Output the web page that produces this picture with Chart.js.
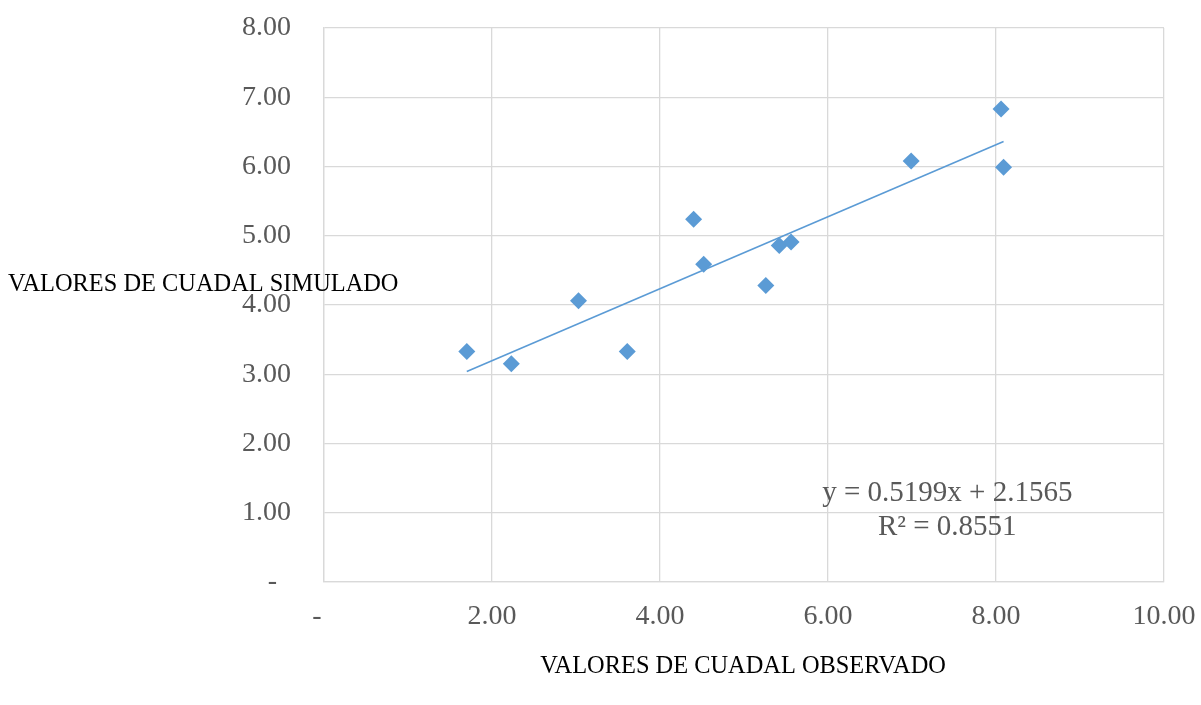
<!DOCTYPE html>
<html>
<head>
<meta charset="utf-8">
<title>Valores de cuadal</title>
<script src="https://cdn.jsdelivr.net/npm/chart.js@4"></script>
<style>
  body { margin: 0; background: #fff; }
  canvas { display: block; }
</style>
</head>
<body>
<canvas id="scatterChart" width="1201" height="705"></canvas>
<script>
// data
const observado = [1.70, 2.23, 3.03, 3.61, 4.40, 4.52, 5.26, 5.42, 5.56, 6.99, 8.06, 8.09];
const simulado  = [3.33, 3.15, 4.06, 3.33, 5.24, 4.59, 4.28, 4.86, 4.91, 6.08, 6.83, 5.99];
const xTicks = [0, 2, 4, 6, 8, 10];
const yTicks = [0, 1, 2, 3, 4, 5, 6, 7, 8];
const trendSlope = 0.5199;
const trendIntercept = 2.1565;
const eqLines = ['y = 0.5199x + 2.1565', 'R² = 0.8551'];

const SERIF = "'Liberation Serif', 'Times New Roman', serif";
const GRID = '#d9d9d9';
const BLUE = '#5b9bd5';

const points = observado.map((x, i) => ({ x: x, y: simulado[i] }));
const xMin = Math.min(...observado);
const xMax = Math.max(...observado);
const trend = [
  { x: xMin, y: trendSlope * xMin + trendIntercept },
  { x: xMax, y: trendSlope * xMax + trendIntercept }
];

function fmt(v) {
  return v === 0 ? '-  ' : v.toFixed(2);
}

// axis titles + trendline equation
const labelsPlugin = {
  id: 'labels',
  afterDraw(chart) {
    const c = chart.ctx;
    const xs = chart.scales.x, ys = chart.scales.y;
    c.save();
    c.fillStyle = '#000';
    c.font = '24.4px ' + SERIF;
    c.textBaseline = 'middle';
    c.textAlign = 'left';
    c.fillText('VALORES DE CUADAL SIMULADO', 8, 285);
    c.textAlign = 'center';
    c.fillText('VALORES DE CUADAL OBSERVADO', 743, 667);

    c.fillStyle = '#595959';
    c.font = '29px ' + SERIF;
    const ex = xs.getPixelForValue(7.42);
    const ey = ys.getPixelForValue(1.28);
    c.fillText(eqLines[0], ex, ey);
    c.fillText(eqLines[1], ex, ey + 34);
    c.restore();
  }
};

const ctx = document.getElementById('scatterChart').getContext('2d');
new Chart(ctx, {
  type: 'scatter',
  data: {
    datasets: [
      {
        label: 'Trend',
        type: 'line',
        data: trend,
        borderColor: BLUE,
        borderWidth: 1.6,
        pointRadius: 0,
        fill: false,
        order: 0
      },
      {
        label: 'Simulado',
        data: points,
        pointStyle: 'rectRot',
        pointRadius: 8.5,
        pointHoverRadius: 8.5,
        backgroundColor: BLUE,
        borderColor: BLUE,
        borderWidth: 0,
        order: 1
      }
    ]
  },
  options: {
    responsive: false,
    animation: false,
    layout: { padding: { top: 28, right: 37, left: 0, bottom: 0 } },
    plugins: {
      legend: { display: false },
      tooltip: { enabled: false }
    },
    scales: {
      x: {
        type: 'linear',
        min: 0,
        max: 10,
        afterBuildTicks: s => { s.ticks = xTicks.map(v => ({ value: v })); },
        afterFit: s => {
          s.height = 123;
          s.paddingLeft = 0;
          s.paddingRight = 0;
        },
        ticks: {
          callback: v => fmt(v),
          color: '#595959',
          font: { family: SERIF, size: 28 },
          padding: 18,
          maxRotation: 0,
          autoSkip: false
        },
        grid: { color: GRID, lineWidth: 1.3, drawTicks: false },
        border: { color: GRID, width: 1.3 }
      },
      y: {
        min: 0,
        max: 8,
        afterBuildTicks: s => { s.ticks = yTicks.map(v => ({ value: v })); },
        afterFit: s => {
          s.width = 324;
          s.paddingTop = 0;
          s.paddingBottom = 0;
        },
        ticks: {
          callback: v => fmt(v),
          color: '#595959',
          font: { family: SERIF, size: 28 },
          padding: 33,
          autoSkip: false
        },
        grid: { color: GRID, lineWidth: 1.3, drawTicks: false },
        border: { color: GRID, width: 1.3 }
      }
    }
  },
  plugins: [labelsPlugin]
});
</script>
</body>
</html>
